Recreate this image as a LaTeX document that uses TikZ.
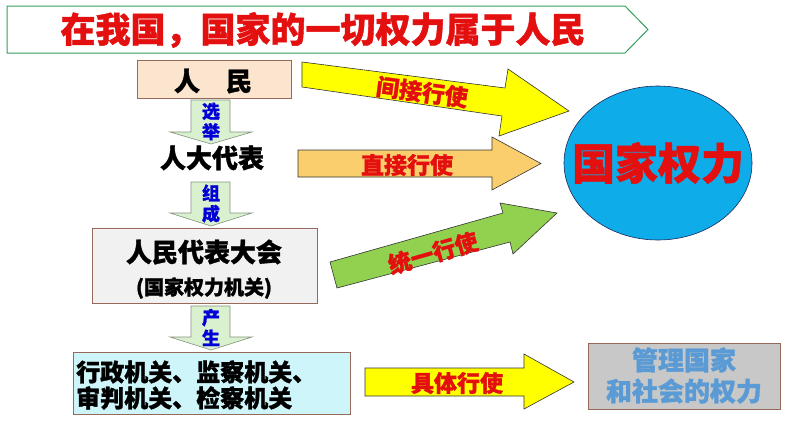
\documentclass[tikz,border=0pt]{standalone}
\usepackage{fontspec}
\setmainfont{Noto Sans CJK SC}[BoldFeatures={FakeBold=1.2}]
\usetikzlibrary{shapes.geometric}

\definecolor{rojo}{RGB}{228,16,16}
\definecolor{verdemarco}{RGB}{50,160,90}
\definecolor{borde}{RGB}{150,105,90}
\definecolor{durazno}{RGB}{251,229,206}
\definecolor{grisclaro}{RGB}{241,241,241}
\definecolor{cian}{RGB}{206,246,250}
\definecolor{gris}{RGB}{200,200,200}
\definecolor{azulgris}{RGB}{91,155,213}
\definecolor{celeste}{RGB}{14,172,232}
\definecolor{marino}{RGB}{30,40,90}
\definecolor{amarillo}{RGB}{255,255,0}
\definecolor{naranja}{RGB}{250,206,108}
\definecolor{verde}{RGB}{146,208,80}
\definecolor{verdeclaro}{RGB}{218,241,208}
\definecolor{azul}{RGB}{0,0,215}

\newcommand{\tam}[2]{\fontsize{#1}{#2}\selectfont\bfseries}

\tikzset{
  texto/.style={inner sep=0pt, text=black},
  caja/.style={draw=borde, line width=0.8pt, inner sep=0pt},
  bloque/.style={draw=black!80, line width=0.6pt, line join=miter},
  bajada/.style={draw=black!40!verdeclaro, fill=verdeclaro, line width=0.6pt}
}

\begin{document}
\begin{tikzpicture}[x=1pt,y=-1pt]
  \useasboundingbox (0,0) rectangle (794,447);

  % Titulo
  \draw[draw=verdemarco, line width=1pt, fill=white]
    (7,6) -- (625,6) -- (648,29.5) -- (625,53) -- (7,53) -- cycle;
  \node[texto, text=rojo, font=\tam{35}{40}] (titulo) at (323,30) {在我国，国家的一切权力属于人民};

  % Cajas de la izquierda
  \node[caja, fill=durazno, minimum width=154, minimum height=38] (pueblo) at (214,79) {};
  \node[texto, font=\tam{26}{30}] (puebloT) at (213,81) {人　民};
  \node[texto, font=\tam{26}{30}] (diputados) at (212,158) {人大代表};
  \node[caja, fill=grisclaro, minimum width=225, minimum height=75] (asamblea) at (204.5,265.5) {};
  \node[texto, font=\tam{26}{30}] (asambleaA) at (204,252) {人民代表大会};
  \node[texto, font=\tam{20}{24}] (asambleaB) at (204,288) {(国家权力机关)};
  \node[caja, fill=cian, minimum width=277, minimum height=62] (organos) at (211.5,383) {};
  \node[texto, anchor=west, align=left, font=\tam{24}{26}] (organosT) at (76,385)
    {行政机关、监察机关、\\审判机关、检察机关};

  % Flechas hacia abajo
  \foreach \ya/\yb/\yc/\pal/\nom in {100/132/144/选\\举/eleccion,
                                      182/213/226/组\\成/formacion,
                                      306/337/350/产\\生/origen} {
    \draw[bajada] (191,\ya) -- (230,\ya) -- (230,\yb) -- (252,\yb) -- (211,\yc)
      -- (170,\yb) -- (191,\yb) -- cycle;
    \node[texto, text=azul, align=center, font=\tam{18}{20.5}] (\nom) at (211,{\ya+21.5}) {\pal};
  }

  % Poder del Estado
  \node[ellipse, draw=marino, fill=celeste, line width=0.6pt, inner sep=0pt,
        minimum width=188, minimum height=154] (poder) at (658,163) {};
  \node[texto, text=rojo, font=\tam{43}{48}] (poderT) at (658,163) {国家权力};
  \node[caja, fill=gris, minimum width=192, minimum height=66] (gestion) at (684,376) {};
  \node[texto, text=azulgris, align=center, font=\tam{26}{31}] (gestionT) at (684,375.5)
    {管理国家\\和社会的权力};

  % Flechas gruesas
  \draw[bloque, fill=amarillo] (302,62) -- (505,88) -- (508,69) -- (569,111)
    -- (499,136) -- (502,116) -- (302,87) -- cycle;
  \node[texto, text=rojo, rotate=-7.5, font=\tam{23}{26}] (indirecto) at (422,92) {间接行使};

  \draw[bloque, fill=naranja] (298,150) -- (492,150) -- (492,137) -- (541,163.5)
    -- (492,190) -- (492,177) -- (298,177) -- cycle;
  \node[texto, text=rojo, font=\tam{23}{26}] (directo) at (407,165) {直接行使};

  \draw[bloque, fill=verde] (330,262) -- (503,213) -- (500,203) -- (557,213)
    -- (513,254) -- (510,242) -- (337,288) -- cycle;
  \node[texto, text=rojo, rotate=16, font=\tam{23}{26}] (unificado) at (433,253) {统一行使};

  \draw[bloque, fill=amarillo] (365,368) -- (524,368) -- (524,354) -- (574,382)
    -- (524,409) -- (524,396) -- (365,396) -- cycle;
  \node[texto, text=rojo, font=\tam{23}{26}] (concreto) at (457,383) {具体行使};
\end{tikzpicture}
\end{document}
